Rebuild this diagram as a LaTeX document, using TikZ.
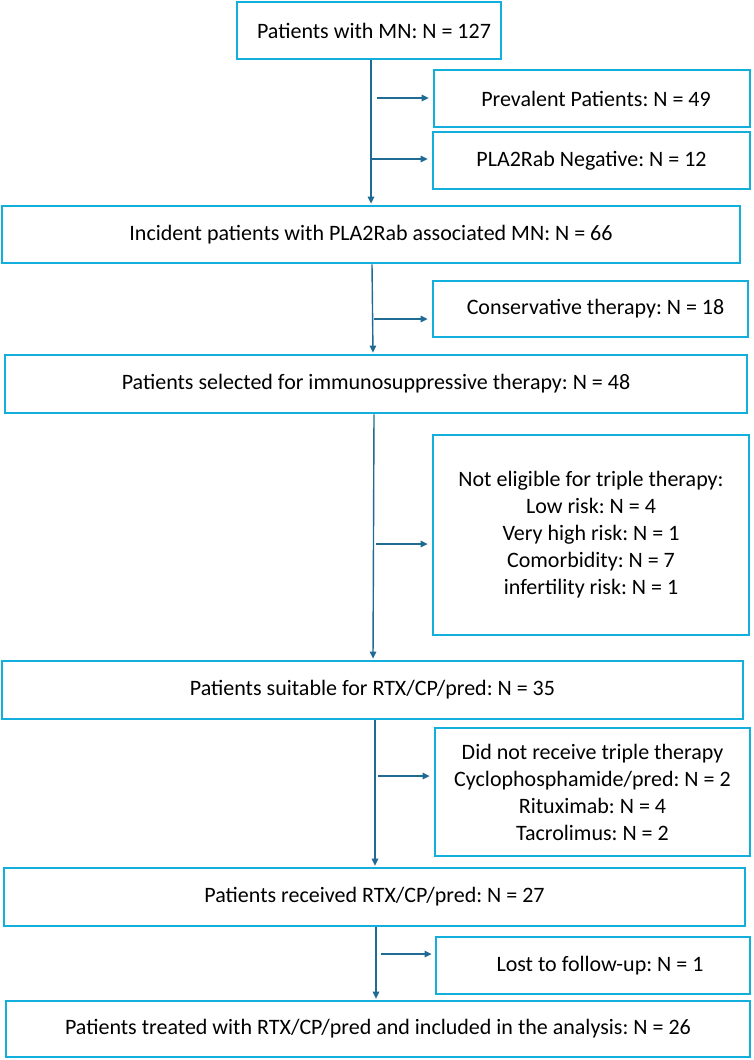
\documentclass[tikz,border=0pt]{standalone}
\usepackage{fontspec}
\setmainfont{Carlito}
\usetikzlibrary{arrows.meta,calc}
\definecolor{boxc}{HTML}{12AEDC}
\definecolor{arrc}{HTML}{1F6B94}
\frenchspacing
\begin{document}
\begin{tikzpicture}[x=1pt,y=-1pt,
  box/.style={draw=boxc,line width=2.8pt,fill=white,align=center,inner sep=0pt,
    font=\fontsize{22}{27}\selectfont},
  arr/.style={draw=arrc,line width=1.4pt,-{Triangle[length=7pt,width=6.5pt]}}]
\useasboundingbox[fill=white] (0,0) rectangle (753,1060);

\node[box,minimum width=264pt,minimum height=57pt] (top) at (369,30.5) {\hspace*{10pt}Patients with MN: N = 127};
\node[box,minimum width=316pt,minimum height=57pt] (prev) at (592,98.5) {\hspace*{8pt}Prevalent Patients: N = 49};
\node[box,minimum width=317pt,minimum height=57pt] (neg) at (591.5,160.5) {PLA2Rab Negative: N = 12};
\node[box,minimum width=738pt,minimum height=57pt] (inc) at (371,234.5) {Incident patients with PLA2Rab associated MN: N = 66};
\node[box,minimum width=315pt,minimum height=56pt] (cons) at (590.5,309) {\hspace*{10pt}Conservative therapy: N = 18};
\node[box,minimum width=742pt,minimum height=58pt] (sel) at (376,384) {Patients selected for immunosuppressive therapy: N = 48};
\node[box,minimum width=316pt,minimum height=200pt] (note) at (591,535) {Not eligible for triple therapy:\\Low risk: N = 4\\Very high risk: N = 1\\Comorbidity: N = 7\\infertility risk: N = 1};
\node[box,minimum width=741pt,minimum height=58pt] (suit) at (372.5,690) {Patients suitable for RTX/CP/pred: N = 35};
\node[box,minimum width=315pt,minimum height=128pt] (didnot) at (592.5,792) {Did not receive triple therapy\\Cyclophosphamide/pred: N = 2\\Rituximab: N = 4\\Tacrolimus: N = 2};
\node[box,minimum width=741pt,minimum height=58pt] (recv) at (374.5,897) {Patients received RTX/CP/pred: N = 27};
\node[box,minimum width=314pt,minimum height=57pt] (lost) at (593,965.5) {\hspace*{14pt}Lost to follow-up: N = 1};
\node[box,minimum width=744pt,minimum height=56pt] (treat) at (378,1029) {Patients treated with RTX/CP/pred and included in the analysis: N = 26};

% vertical flow
\draw[arr,shorten >=1pt] (top.south -| 371,0) -- (inc.north -| 371,0);
\draw[arr,shorten >=1pt] (inc.south -| 372,0) -- (sel.north -| 373,0);
\draw[arr,shorten >=1pt] (sel.south -| 374,0) -- (suit.north -| 373,0);
\draw[arr,shorten >=1pt] (suit.south -| 375,0) -- (recv.north -| 375,0);
\draw[arr,shorten >=1pt] (recv.south -| 376,0) -- (treat.north -| 376,0);

% branch arrows
\coordinate (b1) at (377,98);
\coordinate (b2) at (372,159);
\coordinate (b3) at (374,319);
\coordinate (b4) at (376,544);
\coordinate (b5) at (378,776);
\coordinate (b6) at (381,954);
\draw[arr,shorten >=4pt] (b1) -- (b1 -| prev.west);
\draw[arr,shorten >=4pt] (b2) -- (b2 -| neg.west);
\draw[arr,shorten >=4pt] (b3) -- (b3 -| cons.west);
\draw[arr,shorten >=4pt] (b4) -- (b4 -| note.west);
\draw[arr,shorten >=4pt] (b5) -- (b5 -| didnot.west);
\draw[arr,shorten >=3pt] (b6) -- (b6 -| lost.west);
\end{tikzpicture}
\end{document}
